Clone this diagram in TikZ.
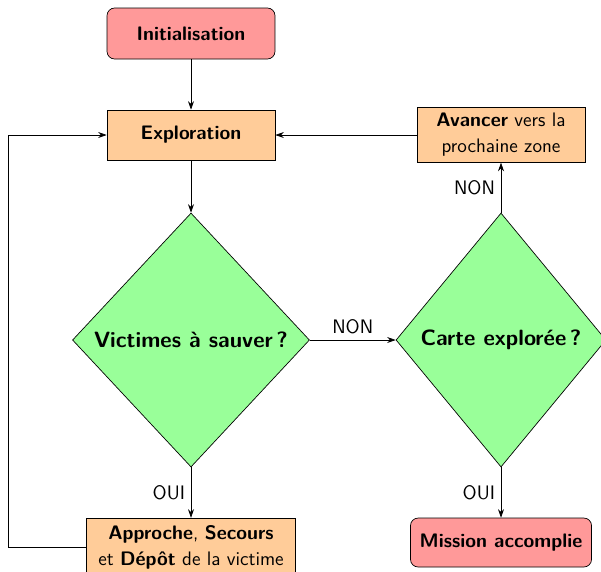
\documentclass[tikz,border=0pt]{standalone}
\usetikzlibrary{shapes.geometric,arrows.meta}
\begin{document}
\begin{tikzpicture}[x=0.5882pt,y=-0.5882pt,
  txt/.style={font=\fontsize{11.5}{15.3}\selectfont\sffamily},
  btxt/.style={font=\fontsize{11.5}{15.3}\selectfont\sffamily\bfseries},
  term/.style={draw, fill=red!40, rounded corners=4.5pt, minimum width=98.8pt, minimum height=30pt, btxt},
  proc/.style={draw, fill=orange!40, minimum width=98.8pt, minimum height=29.4pt, align=center, txt},
  decision/.style={draw, fill=green!40, diamond, inner sep=0pt, minimum height=149.4pt, font=\fontsize{13}{16}\selectfont\sffamily\bfseries},
  arr/.style={-{Stealth[length=5pt,width=3.5pt]}},
  lab/.style={txt}]
\useasboundingbox (0,0) rectangle (601,571);
\node[term] (init) at (191,33.5) {Initialisation};
\node[proc, btxt] (expl) at (191,135) {Exploration};
\node[proc, minimum height=31.8pt] (avan) at (501,135) {\textbf{Avancer} vers la\\prochaine zone};
\node[decision, minimum width=139.4pt] (vict) at (191,340) {Victimes à sauver\,?};
\node[decision, minimum width=123.5pt] (carte) at (501,340) {Carte explorée\,?};
\node[proc, minimum width=123pt, minimum height=34pt] (appr) at (191,547) {\textbf{Approche}, \textbf{Secours}\\et \textbf{Dépôt} de la victime};
\node[term, minimum width=106.5pt, minimum height=28.8pt] (miss) at (501,542.5) {Mission accomplie};
\coordinate (lp) at (8,547);
\draw[arr] (init) -- (expl);
\draw[arr] (expl) -- (vict);
\draw[arr] (vict) -- node[lab, above] {NON} (carte);
\draw[arr] (vict) -- node[lab, left, pos=0.5] {OUI} (appr);
\draw[arr] (carte) -- node[lab, left, pos=0.5] {OUI} (miss);
\draw[arr] (carte) -- node[lab, left, pos=0.5] {NON} (avan);
\draw[arr] (avan) -- (expl);
\draw[arr] (appr.west) -- (lp) |- (expl.west);
\end{tikzpicture}
\end{document}
